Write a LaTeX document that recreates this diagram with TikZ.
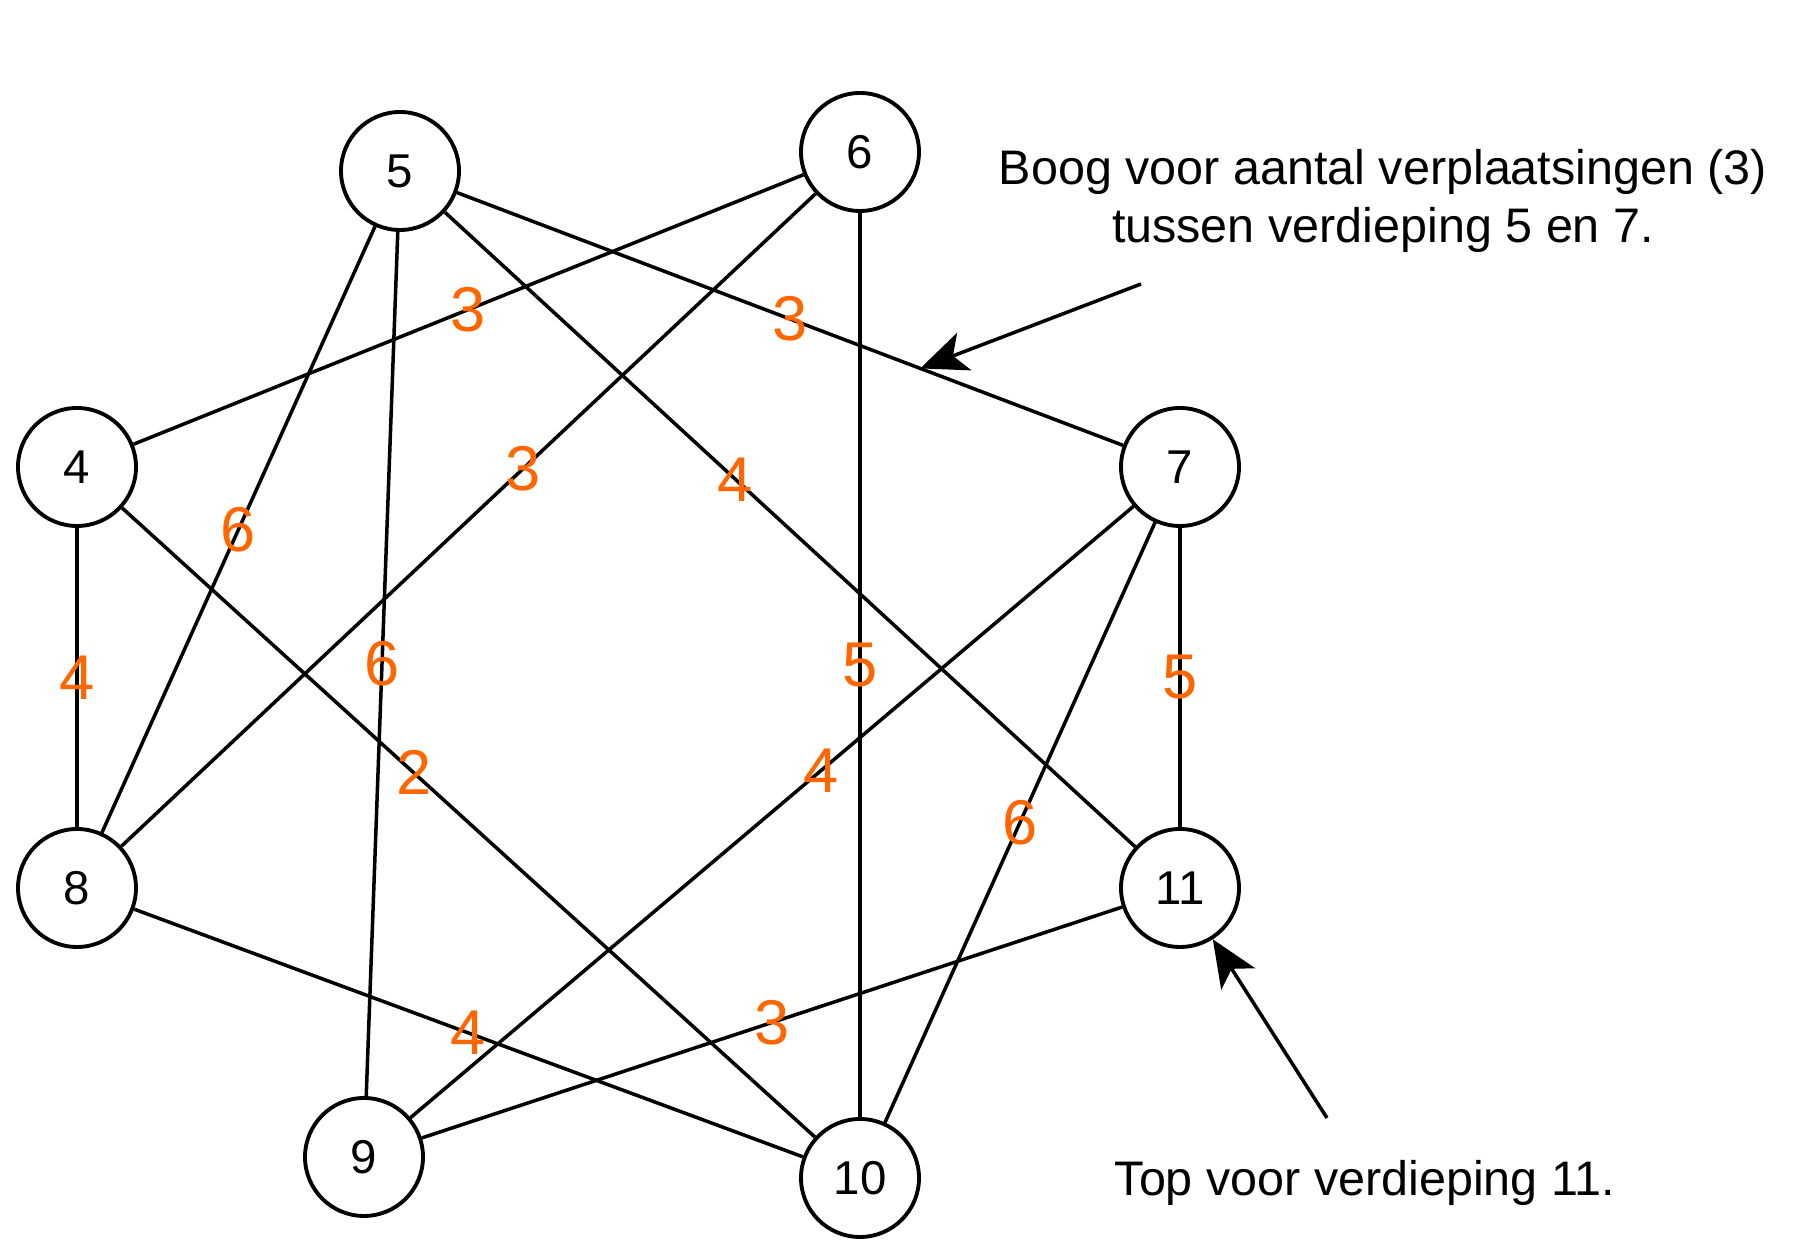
\documentclass[tikz,border=0pt]{standalone}
\usepackage{fontspec}
\setmainfont{Liberation Sans}
\usepackage{tikz}
\usetikzlibrary{arrows.meta,calc}
\definecolor{edgeorange}{RGB}{255,102,0}

\begin{document}
\begin{tikzpicture}[
  vertex/.style={circle,draw=black,line width=1.1pt,fill=white,inner sep=0pt,
                 minimum size=1.18cm,font=\fontsize{13.5}{16}\selectfont},
  edge/.style={draw=black,line width=1pt},
  weight/.style={text=edgeorange,inner sep=0pt,font=\fontsize{18}{21}\selectfont},
  note/.style={align=center,inner sep=0pt,font=\fontsize{13.8}{16.6}\selectfont},
  pointer/.style={draw=black,line width=1pt,-{Stealth[length=4.7mm,width=4mm,inset=1.2mm]}}
]
\useasboundingbox (0,0) rectangle (18.04,12.56);
%% Floors (vertices)
\node[vertex] (n5)  at (4.00,10.85) {5};
\node[vertex] (n6)  at (8.60,11.04) {6};
\node[vertex] (n4)  at (0.77,7.89)  {4};
\node[vertex] (n7)  at (11.80,7.89) {7};
\node[vertex] (n8)  at (0.77,3.68)  {8};
\node[vertex] (n11) at (11.80,3.68) {11};
\node[vertex] (n9)  at (3.64,0.99)  {9};
\node[vertex] (n10) at (8.60,0.78)  {10};
%% Edges
\draw[edge] (n5) -- (n7);
\draw[edge] (n5) -- (n11);
\draw[edge] (n5) -- (n8);
\draw[edge] (n5) -- (n9);
\draw[edge] (n6) -- (n4);
\draw[edge] (n6) -- (n8);
\draw[edge] (n6) -- (n10);
\draw[edge] (n4) -- (n8);
\draw[edge] (n4) -- (n10);
\draw[edge] (n7) -- (n9);
\draw[edge] (n7) -- (n10);
\draw[edge] (n7) -- (n11);
\draw[edge] (n8) -- (n10);
\draw[edge] (n11) -- (n9);
%% Edge weights
\node[weight] (w57)  at ($(n5)!0.50!(n7)$)  {3};
\node[weight] (w511) at ($(n5)!0.43!(n11)$) {4};
\node[weight] (w58)  at ($(n5)!0.50!(n8)$)  {6};
\node[weight] (w59)  at ($(n5)!0.50!(n9)$)  {6};
\node[weight] (w64)  at ($(n6)!0.50!(n4)$)  {3};
\node[weight] (w68)  at ($(n6)!0.43!(n8)$)  {3};
\node[weight] (w610) at ($(n6)!0.50!(n10)$) {5};
\node[weight] (w48)  at ($(n4)!0.50!(n8)$)  {4};
\node[weight] (w410) at ($(n4)!0.43!(n10)$) {2};
\node[weight] (w79)  at ($(n7)!0.44!(n9)$)  {4};
\node[weight] (w710) at ($(n7)!0.50!(n10)$) {6};
\node[weight] (w711) at ($(n7)!0.50!(n11)$) {5};
\node[weight] (w810) at ($(n8)!0.50!(n10)$) {4};
\node[weight] (w119) at ($(n11)!0.50!(n9)$) {3};
%% Annotations
\node[note] (noteedge) at (13.83,10.55) {Boog voor aantal verplaatsingen (3)\\tussen verdieping 5 en 7.};
\node[note] (notetop)  at (13.65,0.73) {Top voor verdieping 11.};
\coordinate (edgestart) at (11.41,9.72);
\coordinate (edgetip)   at ($(n5)!0.667!(n7)$);
\coordinate (topstart)  at (13.27,1.38);
\draw[pointer] (edgestart) -- (edgetip);
\draw[pointer] (topstart) -- (n11);
\end{tikzpicture}
\end{document}
